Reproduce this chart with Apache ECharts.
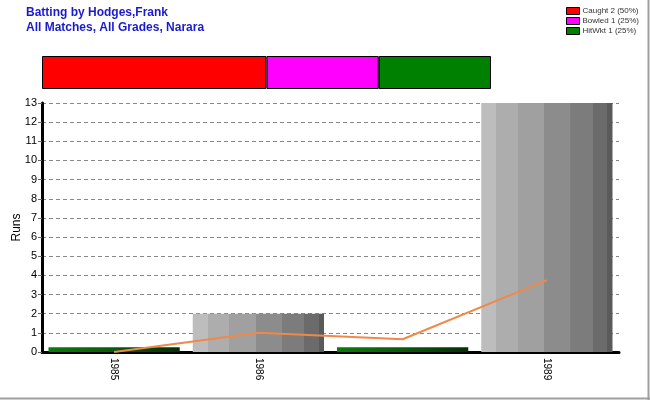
<!DOCTYPE html>
<html><head><meta charset="utf-8">
<script src="https://cdn.jsdelivr.net/npm/echarts@6/dist/echarts.min.js"></script>
<style>html,body{margin:0;padding:0;background:#fff}#c{width:650px;height:400px}</style>
</head><body><div id="c"></div>
<script>
const categories = ['1985', '1986', '', '1989'];
const runs = [null, 2, null, 13];
const ducks = [0.25, null, 0.25, null];
const average = [0, 1, 0.667, 3.75];
const dismissalNames = ['Caught 2 (50%)', 'Bowled 1 (25%)', 'HitWkt 1 (25%)'];
const dismissalCounts = [2, 1, 1];
const dismissalColors = ['#ff0000', '#ff00ff', '#008000'];
const yTicks = [0, 13, 1];

const chart = echarts.init(document.getElementById('c'), null, {renderer: 'canvas'});
const grayStops = [
  [0, '#bdbdbd'], [0.115, '#adadad'], [0.28, '#a0a0a0'], [0.48, '#8c8c8c'],
  [0.68, '#7c7c7c'], [0.85, '#6b6b6b'], [0.96, '#5a5a5a']
];
const colorStops = [];
grayStops.forEach((s, i) => {
  const end = i < grayStops.length - 1 ? grayStops[i + 1][0] : 1;
  colorStops.push({offset: s[0], color: s[1]});
  colorStops.push({offset: i < grayStops.length - 1 ? end - 0.0001 : 1, color: s[1]});
});
const grayGrad = new echarts.graphic.LinearGradient(0, 0, 1, 0, colorStops);
const greenGrad = new echarts.graphic.LinearGradient(0, 0, 1, 0, [
  {offset: 0, color: '#0c7a0c'}, {offset: 0.5, color: '#0a5a0a'}, {offset: 1, color: '#062e06'}
]);

const dismissalSeries = dismissalNames.map((n, i) => ({
  name: n, type: 'bar', stack: 'd', xAxisIndex: 1, yAxisIndex: 1,
  data: [dismissalCounts[i]], barWidth: '100%',
  itemStyle: {color: dismissalColors[i], borderColor: '#000', borderWidth: 1},
  silent: true
}));

chart.setOption({
  animation: false,
  title: [{
    text: 'Batting by Hodges,Frank\nAll Matches, All Grades, Narara',
    left: 26, top: 5, padding: 0,
    textStyle: {color: '#1a1acd', fontFamily: 'Liberation Sans, Arial', fontSize: 12, fontWeight: 'bold', lineHeight: 15}
  }],
  legend: {
    orient: 'vertical', left: 566, top: 6, itemGap: 0, padding: 0,
    itemWidth: 13, itemHeight: 7, icon: 'rect',
    data: dismissalNames,
    itemStyle: {borderColor: '#000', borderWidth: 1},
    textStyle: {fontFamily: 'Liberation Sans, Arial', fontSize: 8, color: '#333', lineHeight: 10, padding: [0, 0, 0, -2]}
  },
  grid: [
    {left: 42, right: 31, top: 103, bottom: 48, outerBoundsMode: 'none', containLabel: false},
    {left: 42, top: 56, width: 449, height: 33, outerBoundsMode: 'none', containLabel: false}
  ],
  xAxis: [
    {
      type: 'category', data: categories, gridIndex: 0, boundaryGap: true,
      axisLine: {lineStyle: {color: '#000', width: 3}},
      axisTick: {alignWithLabel: true, length: 5, lineStyle: {color: '#666'}},
      axisLabel: {rotate: -90, fontSize: 10, fontFamily: 'Liberation Sans, Arial', color: '#000', margin: 6}
    },
    {type: 'value', gridIndex: 1, min: 0, max: 4, show: false}
  ],
  yAxis: [
    {
      type: 'value', gridIndex: 0, min: yTicks[0], max: yTicks[1], interval: yTicks[2],
      name: 'Runs', nameLocation: 'middle', nameGap: 19, nameMoveOverlap: false,
      nameTextStyle: {fontSize: 12, fontFamily: 'Liberation Sans, Arial', color: '#000'},
      axisLine: {show: true, lineStyle: {color: '#000', width: 3}},
      axisTick: {show: true, length: 4, lineStyle: {color: '#666'}},
      axisLabel: {fontSize: 11, fontFamily: 'Liberation Sans, Arial', color: '#000', margin: 5},
      splitLine: {lineStyle: {color: '#888', type: [4, 3], width: 1}}
    },
    {type: 'category', gridIndex: 1, data: ['d'], show: false}
  ],
  series: [
    {
      type: 'bar', name: 'runs', data: runs, barGap: '-100%', barCategoryGap: '9%',
      itemStyle: {color: grayGrad}, z: 2
    },
    {
      type: 'bar', name: 'ducks', data: ducks, barGap: '-100%', barCategoryGap: '9%',
      itemStyle: {color: greenGrad}, z: 2
    },
    {
      type: 'line', name: 'avg', data: average, symbol: 'none',
      lineStyle: {color: '#f0884a', width: 2}, z: 5
    }
  ].concat(dismissalSeries),
  graphic: [
    {type: 'line', shape: {x1: 0, y1: 398.5, x2: 650, y2: 398.5}, style: {stroke: '#a0a0a0', lineWidth: 2}},
    {type: 'line', shape: {x1: 648.5, y1: 0, x2: 648.5, y2: 400}, style: {stroke: '#a0a0a0', lineWidth: 2}}
  ]
});
</script></body></html>
